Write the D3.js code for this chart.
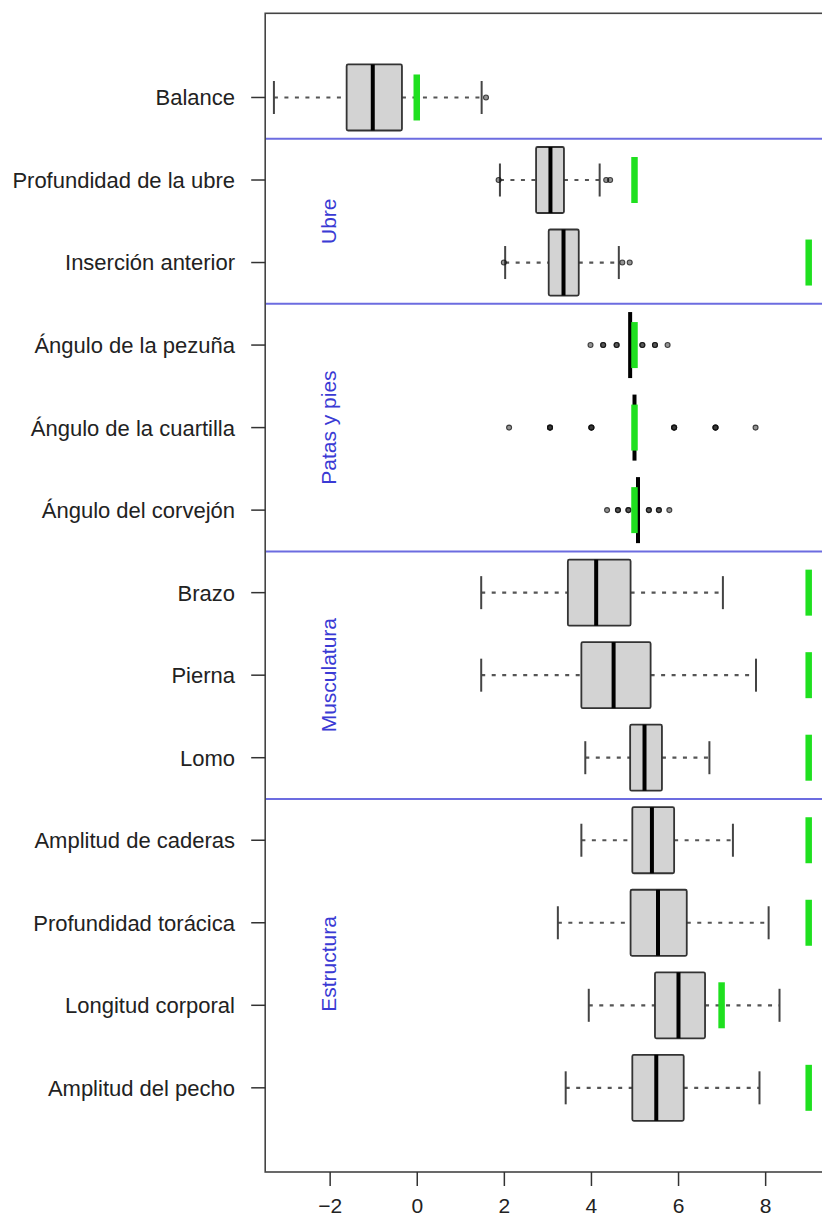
<!DOCTYPE html>
<html>
<head>
<meta charset="utf-8">
<script src="https://cdn.jsdelivr.net/npm/d3@7"></script>
<style>
  html, body { margin: 0; padding: 0; background: #fff; }
  svg { display: block; }
  text { font-family: "Liberation Sans", Arial, sans-serif; }
</style>
</head>
<body>
<script>
// ---- data ----
const categories = [
  "Balance", "Profundidad de la ubre", "Inserción anterior",
  "Ángulo de la pezuña", "Ángulo de la cuartilla", "Ángulo del corvejón",
  "Brazo", "Pierna", "Lomo",
  "Amplitud de caderas", "Profundidad torácica", "Longitud corporal", "Amplitud del pecho"
];
const whiskerLow  = [-3.28, 1.91, 2.03, 4.90, 5.00, 5.08, 1.48, 1.48, 3.87, 3.78, 3.24, 3.95, 3.42];
const q1          = [-1.61, 2.74, 3.03, 4.90, 5.00, 5.08, 3.47, 3.78, 4.90, 4.95, 4.91, 5.47, 4.95];
const medians     = [-1.01, 3.07, 3.37, 4.90, 5.00, 5.08, 4.12, 4.52, 5.23, 5.40, 5.54, 6.01, 5.50];
const q3          = [-0.34, 3.38, 3.72, 4.90, 5.00, 5.08, 4.91, 5.37, 5.63, 5.91, 6.20, 6.62, 6.13];
const whiskerHigh = [ 1.49, 4.20, 4.64, 4.90, 5.00, 5.08, 7.03, 7.79, 6.72, 7.26, 8.08, 8.33, 7.87];
const outliers = [
  [1.59],
  [1.88, 4.35, 4.44],
  [2.00, 4.72, 4.89],
  [3.99, 4.28, 4.28, 4.59, 4.59, 5.18, 5.18, 5.47, 5.47, 5.76],
  [2.12, 3.06, 3.06, 3.06, 4.01, 4.01, 4.01, 5.91, 5.91, 5.91, 6.86, 6.86, 6.86, 7.78],
  [4.37, 4.62, 4.62, 4.86, 4.86, 5.33, 5.33, 5.56, 5.56, 5.80],
  [], [], [], [], [], [], []
];
const targets = [0, 5, 9, 5, 5, 5, 9, 9, 9, 9, 9, 7, 9];
const groupNames = ["Ubre", "Patas y pies", "Musculatura", "Estructura"];
const groupFirst = [2, 4, 7, 10];
const groupLast  = [3, 6, 9, 13];
const separators = [1.5, 3.5, 6.5, 9.5];
const xTicks = [-2, 0, 2, 4, 6, 8];
const xLimits = [-3, 9];

// ---- layout ----
const W = 822, H = 1221;
const mLeft = 265.2, mTop = 13.3, plotRight = 829.6, mBottom = 1172;
const svg = d3.select("body").append("svg").attr("width", W).attr("height", H);

// R-style 4% extension
const ext = (xLimits[1] - xLimits[0]) * 0.04;
const x = d3.scaleLinear().domain([xLimits[0] - ext, xLimits[1] + ext]).range([mLeft, plotRight]);
const n = categories.length;
const yExt = n * 0.04;
const y = d3.scaleLinear().domain([0.5 - yExt, n + 0.5 + yExt]).range([mTop, mBottom]);
const unit = y(2) - y(1);
const boxH = unit * 0.8;

const g = svg.append("g");

// separators
g.selectAll("line.sep").data(separators).join("line")
  .attr("class", "sep")
  .attr("x1", mLeft).attr("x2", plotRight)
  .attr("y1", d => y(d)).attr("y2", d => y(d))
  .attr("stroke", "#6c6ce0").attr("stroke-width", 2);

const rows = categories.map((c, i) => ({
  c, pos: i + 1, lo: whiskerLow[i], q1: q1[i], med: medians[i], q3: q3[i], hi: whiskerHigh[i],
  out: outliers[i], target: targets[i]
}));

const row = g.selectAll("g.row").data(rows).join("g").attr("class", "row");

// whiskers (dashed)
row.append("line")
  .attr("x1", d => x(d.lo)).attr("x2", d => x(d.q1))
  .attr("y1", d => y(d.pos)).attr("y2", d => y(d.pos))
  .attr("stroke", "#555").attr("stroke-width", 2.2).attr("stroke-dasharray", "4,6.5");
row.append("line")
  .attr("x1", d => x(d.q3)).attr("x2", d => x(d.hi))
  .attr("y1", d => y(d.pos)).attr("y2", d => y(d.pos))
  .attr("stroke", "#555").attr("stroke-width", 2.2).attr("stroke-dasharray", "4,6.5");
// staples
row.selectAll("line.staple").data(d => [{v: d.lo, pos: d.pos}, {v: d.hi, pos: d.pos}]).join("line")
  .attr("class", "staple")
  .attr("x1", d => x(d.v)).attr("x2", d => x(d.v))
  .attr("y1", d => y(d.pos) - boxH / 4).attr("y2", d => y(d.pos) + boxH / 4)
  .attr("stroke", "#444").attr("stroke-width", 2);
// boxes
row.append("rect")
  .attr("x", d => x(d.q1)).attr("width", d => x(d.q3) - x(d.q1))
  .attr("y", d => y(d.pos) - boxH / 2).attr("height", boxH)
  .attr("rx", 1.5)
  .attr("fill", "#d3d3d3").attr("stroke", "#333").attr("stroke-width", 1.8);
// outliers
row.selectAll("circle").data(d => d.out.map(v => ({v, pos: d.pos}))).join("circle")
  .attr("cx", d => x(d.v)).attr("cy", d => y(d.pos)).attr("r", 2.5)
  .attr("fill", "#111").attr("fill-opacity", 0.45)
  .attr("stroke", "#111").attr("stroke-opacity", 0.75).attr("stroke-width", 1.1);
// medians
row.append("line")
  .attr("x1", d => x(d.med)).attr("x2", d => x(d.med))
  .attr("y1", d => y(d.pos) - boxH / 2).attr("y2", d => y(d.pos) + boxH / 2)
  .attr("stroke", "#000").attr("stroke-width", 4);
// target marks (green)
row.append("line")
  .attr("x1", d => x(d.target)).attr("x2", d => x(d.target))
  .attr("y1", d => y(d.pos) - 23).attr("y2", d => y(d.pos) + 23)
  .attr("stroke", "#1fe01f").attr("stroke-width", 6.5);

// group labels
groupNames.forEach((name, i) => {
  const cy = y((groupFirst[i] + groupLast[i]) / 2);
  g.append("text")
    .attr("transform", `translate(${x(-2) + 6},${cy}) rotate(-90)`)
    .attr("text-anchor", "middle")
    .attr("fill", "#3a3ad4")
    .attr("font-size", 21)
    .text(name);
});

// frame
svg.append("rect")
  .attr("x", mLeft).attr("y", mTop)
  .attr("width", plotRight - mLeft).attr("height", mBottom - mTop)
  .attr("fill", "none").attr("stroke", "#444").attr("stroke-width", 1.6);

// y axis (category labels)
const yAxisG = svg.append("g");
yAxisG.selectAll("line").data(rows).join("line")
  .attr("x1", mLeft - 14).attr("x2", mLeft)
  .attr("y1", d => y(d.pos)).attr("y2", d => y(d.pos))
  .attr("stroke", "#333").attr("stroke-width", 1.5);
yAxisG.selectAll("text").data(rows).join("text")
  .attr("x", 235).attr("y", d => y(d.pos)).attr("dy", "0.36em")
  .attr("text-anchor", "end").attr("font-size", 22).attr("fill", "#222")
  .text(d => d.c);

// x axis
const xAxis = d3.axisBottom(x).tickValues(xTicks).tickSize(14).tickPadding(12)
  .tickFormat(d => d < 0 ? "\u2212" + Math.abs(d) : String(d));
const xg = svg.append("g").attr("transform", `translate(0,${mBottom})`).call(xAxis);
xg.select(".domain").remove();
xg.selectAll(".tick line").attr("stroke", "#333").attr("stroke-width", 1.5);
xg.selectAll(".tick text").attr("font-size", 21).attr("fill", "#222")
  .attr("font-family", "Liberation Sans, Arial, sans-serif");
</script>
</body>
</html>
